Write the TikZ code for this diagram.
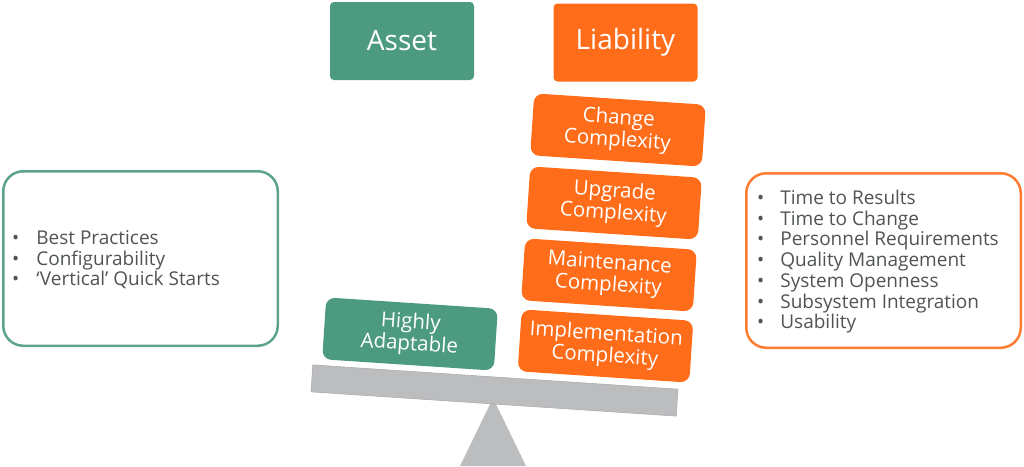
\documentclass[tikz,border=0pt]{standalone}
\usepackage{fontspec}
\setmainfont{Open Sans}
\definecolor{assetgreen}{HTML}{4C9A80}
\definecolor{liaborange}{HTML}{FF6D1A}
\definecolor{beamgray}{HTML}{BCBDBF}
\definecolor{listgray}{HTML}{505456}

\begin{document}
\begin{tikzpicture}[x=1pt, y=-1pt,
  head/.style={rounded corners=4pt, minimum width=144pt, minimum height=78pt, inner sep=0pt,
    text=white, font=\fontsize{28}{30}\selectfont},
  weight/.style={rounded corners=9pt, minimum width=172pt, minimum height=62pt, inner sep=0pt,
    rotate=-3.8, text=white, align=center, font=\fontsize{20.5}{22}\selectfont},
  listbox/.style={rounded corners=20pt, line width=2.5pt, fill=white,
    minimum width=274.5pt, minimum height=174.5pt},
  listtext/.style={inner sep=0pt, anchor=west, text=listgray, font=\fontsize{19}{20.7}\selectfont}]
  \useasboundingbox (0,0) rectangle (1024,466);

  % Draw headings
  \node[head, fill=assetgreen] (asset) at (402,41) {Asset};
  \node[head, fill=liaborange] (liability) at (625.5,42.5) {Liability};

  % Draw list boxes
  \node[listbox, draw=assetgreen!90!white] (assetbox) at (140.5,258.5) {};
  \node[listbox, draw=liaborange!90!white] (liabbox) at (883.5,260.5) {};
  \node[listtext] (assetlist) at (12,261) {%
    \begin{tabular}{@{}l@{\hspace{17pt}}l@{}}
      • & Best Practices\\
      • & Configurability\\
      • & ‘Vertical’ Quick Starts
    \end{tabular}};
  \node[listtext] (liablist) at (757,262.5) {%
    \begin{tabular}{@{}l@{\hspace{16pt}}l@{}}
      • & Time to Results\\
      • & Time to Change\\
      • & Personnel Requirements\\
      • & Quality Management\\
      • & System Openness\\
      • & Subsystem Integration\\
      • & Usability
    \end{tabular}};

  % Draw seesaw
  \coordinate (pivot) at (493,398);
  \coordinate (footL) at (460,466);
  \coordinate (footR) at (526,466);
  \fill[beamgray] (pivot) -- (footR) -- (footL) -- cycle;
  \node[fill=beamgray, draw=beamgray!92!black, line width=0.6pt, minimum width=366pt, minimum height=27pt,
    inner sep=0pt, rotate=-3.8] (beam) at (494.5,390.5) {};

  % Draw weights
  \node[weight, fill=assetgreen] (adaptable) at (410,334) {Highly\\Adaptable};
  \node[weight, fill=liaborange] (implement) at (605.5,346) {Implementation\\Complexity};
  \node[weight, fill=liaborange] (maintain) at (609,275) {Maintenance\\Complexity};
  \node[weight, fill=liaborange] (upgrade) at (614,203) {Upgrade\\Complexity};
  \node[weight, fill=liaborange] (change) at (618,130) {Change\\Complexity};
\end{tikzpicture}
\end{document}
